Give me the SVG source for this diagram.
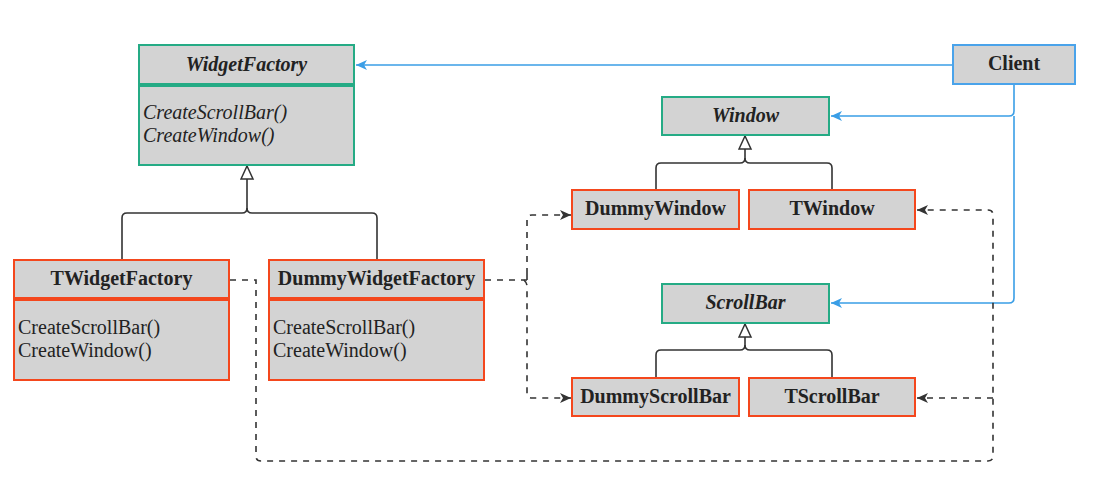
<svg xmlns="http://www.w3.org/2000/svg" width="1096" height="490" viewBox="0 0 1096 490">
<defs>
<style>
.box{fill:#d3d3d3;stroke-width:2}
.abs{stroke:#25ab85}
.con{stroke:#f4471d}
.cli{stroke:#4aa3ea}
text{font-family:"Liberation Serif","Times New Roman",serif;font-size:20px;fill:#222}
.b{font-weight:bold}
.i{font-style:italic}
.mid{text-anchor:middle}
.inh{fill:none;stroke:#333;stroke-width:1.6}
.dash{fill:none;stroke:#333;stroke-width:1.6;stroke-dasharray:6 6}
.blue{fill:none;stroke:#3a9ee6;stroke-width:1.6}
</style>
<marker id="tri" markerWidth="16" markerHeight="16" refX="14" refY="7" orient="auto" markerUnits="userSpaceOnUse">
<path d="M1,1 L14,7 L1,13 Z" fill="#fff" stroke="#333" stroke-width="1.5"/>
</marker>
<marker id="arr" markerWidth="14" markerHeight="14" refX="11" refY="6" orient="auto" markerUnits="userSpaceOnUse">
<path d="M0,1 L11,6 L0,11 L3,6 Z" fill="#333"/>
</marker>
<marker id="barr" markerWidth="14" markerHeight="14" refX="11" refY="6" orient="auto" markerUnits="userSpaceOnUse">
<path d="M0,1 L11,6 L0,11 L3,6 Z" fill="#3a9ee6"/>
</marker>
</defs>
<rect width="1096" height="490" fill="#fff"/>
<g id="connectors">
<path class="blue" d="M953,65 L356,65" marker-end="url(#barr)"/>
<path class="blue" d="M1014,84 L1014,111 Q1014,116 1009,116 L831,116" marker-end="url(#barr)"/>
<path class="blue" d="M1014,116 L1014,298 Q1014,303 1009,303 L831,303" marker-end="url(#barr)"/>
<path class="inh" d="M122,260 L122,218 Q122,213 127,213 L242,213 Q247,213 247,208 L247,166" marker-end="url(#tri)"/>
<path class="inh" d="M377,260 L377,218 Q377,213 372,213 L252,213 Q247,213 247,208"/>
<path class="inh" d="M656,190 L656,168 Q656,163 661,163 L740,163 Q745,163 745,158 L745,136" marker-end="url(#tri)"/>
<path class="inh" d="M832,190 L832,168 Q832,163 827,163 L750,163 Q745,163 745,158"/>
<path class="inh" d="M656,378 L656,355 Q656,350 661,350 L740,350 Q745,350 745,345 L745,324" marker-end="url(#tri)"/>
<path class="inh" d="M832,378 L832,355 Q832,350 827,350 L750,350 Q745,350 745,345"/>
<path class="dash" d="M485,280 L527,280 L527,220 Q527,215 532,215 L571,215" marker-end="url(#arr)"/>
<path class="dash" d="M527,280 L527,274 M524,280 Q527,283 527,286 L527,393 Q527,398 532,398 L571,398" marker-end="url(#arr)"/>
<path class="dash" d="M230,280 L256,280 L256,456 Q256,461 261,461 L988,461 Q993,461 993,456 L993,215 Q993,210 988,210 L917,210" marker-end="url(#arr)"/>
<path class="dash" d="M993,398 L917,398" marker-end="url(#arr)"/>
</g>
<g id="WidgetFactory">
<rect class="box abs" x="139" y="45" width="215" height="39"/>
<rect class="box abs" x="139" y="86" width="215" height="79"/>
<text class="b i mid" x="246.5" y="71">WidgetFactory</text>
<text class="i" x="143" y="119">CreateScrollBar()</text>
<text class="i" x="143" y="142">CreateWindow()</text>
</g>
<g id="TWidgetFactory">
<rect class="box con" x="14" y="260" width="215" height="38"/>
<rect class="box con" x="14" y="300" width="215" height="80"/>
<text class="b mid" x="121.5" y="285">TWidgetFactory</text>
<text x="18" y="334">CreateScrollBar()</text>
<text x="18" y="357">CreateWindow()</text>
</g>
<g id="DummyWidgetFactory">
<rect class="box con" x="269" y="260" width="215" height="38"/>
<rect class="box con" x="269" y="300" width="215" height="80"/>
<text class="b mid" x="376.5" y="285">DummyWidgetFactory</text>
<text x="273" y="334">CreateScrollBar()</text>
<text x="273" y="357">CreateWindow()</text>
</g>
<g id="Window">
<rect class="box abs" x="662" y="97" width="167" height="38"/>
<text class="b i mid" x="745.5" y="122">Window</text>
</g>
<g id="DummyWindow">
<rect class="box con" x="572" y="190" width="167" height="39"/>
<text class="b mid" x="655.5" y="215">DummyWindow</text>
</g>
<g id="TWindow">
<rect class="box con" x="749" y="190" width="166" height="39"/>
<text class="b mid" x="832" y="215">TWindow</text>
</g>
<g id="ScrollBar">
<rect class="box abs" x="662" y="284" width="167" height="39"/>
<text class="b i mid" x="745.5" y="309">ScrollBar</text>
</g>
<g id="DummyScrollBar">
<rect class="box con" x="572" y="378" width="167" height="38"/>
<text class="b mid" x="655.5" y="403">DummyScrollBar</text>
</g>
<g id="TScrollBar">
<rect class="box con" x="749" y="378" width="166" height="38"/>
<text class="b mid" x="832" y="403">TScrollBar</text>
</g>
<g id="Client">
<rect class="box cli" x="953" y="45" width="122" height="39"/>
<text class="b mid" x="1014" y="70">Client</text>
</g>
</svg>
